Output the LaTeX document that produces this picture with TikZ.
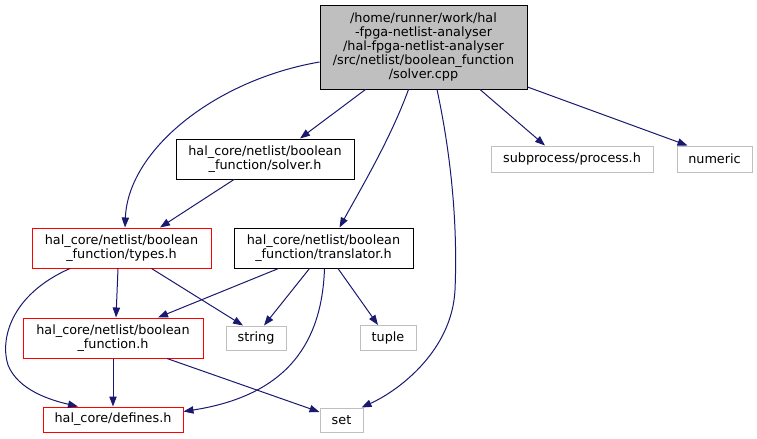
\documentclass[tikz,border=0pt]{standalone}
\usepackage{fontspec}
\setmainfont{DejaVu Sans}
\usetikzlibrary{calc,arrows.meta}
\definecolor{edgeblue}{HTML}{191970}
\definecolor{extgray}{HTML}{BFBFBF}
\definecolor{rootfill}{HTML}{BFBFBF}
\definecolor{incred}{HTML}{FF0000}
\tikzset{
  box/.style={draw, line width=0.75pt, inner sep=0pt, align=center, font=\fontsize{9.6}{10.5}\selectfont},
  rootbox/.style={box, draw=black, fill=rootfill},
  blackbox/.style={box, draw=black},
  redbox/.style={box, draw=incred},
  extbox/.style={box, draw=extgray},
  dep/.style={draw=edgeblue, line width=0.75pt, -{Triangle[length=7.5pt,width=5.5pt,fill=edgeblue]}},
}
\begin{document}
\begin{tikzpicture}[x=0.75pt,y=-0.75pt]
\useasboundingbox (0,0) rectangle (757,439);
\node[rootbox, minimum width=207*0.75pt, minimum height=84*0.75pt] (root) at (423.5,47)
  {/home/runner/work/hal\\-fpga-netlist-analyser\\/hal-fpga-netlist-analyser\\/src/netlist/boolean\_function\\/solver.cpp};
\node[blackbox, minimum width=178*0.75pt, minimum height=40*0.75pt] (solver) at (265,159)
  {hal\_core/netlist/boolean\\\_function/solver.h};
\node[redbox, minimum width=179*0.75pt, minimum height=40*0.75pt] (types) at (121.5,248)
  {hal\_core/netlist/boolean\\\_function/types.h};
\node[blackbox, minimum width=179*0.75pt, minimum height=40*0.75pt] (trans) at (323.5,248)
  {hal\_core/netlist/boolean\\\_function/translator.h};
\node[redbox, minimum width=180*0.75pt, minimum height=40*0.75pt] (bf) at (113,338)
  {hal\_core/netlist/boolean\\\_function.h};
\node[redbox, minimum width=140*0.75pt, minimum height=25*0.75pt] (defines) at (113,419.5)
  {hal\_core/defines.h};
\node[extbox, minimum width=60*0.75pt, minimum height=24*0.75pt] (string) at (256,338) {string};
\node[extbox, minimum width=56*0.75pt, minimum height=25*0.75pt] (tuple) at (388,338) {tuple};
\node[extbox, minimum width=43*0.75pt, minimum height=24*0.75pt] (set) at (341.5,420) {set};
\node[extbox, minimum width=162*0.75pt, minimum height=26*0.75pt] (subproc) at (572,159) {subprocess/process.h};
\node[extbox, minimum width=75*0.75pt, minimum height=26*0.75pt] (numeric) at (714.5,159) {numeric};

% edges
\draw[dep] ($(root.west)+(0,15)$) .. controls (215,80) and (128,150) .. ($(types.north)+(3.5,0)$);
\draw[dep] ($(root.south)+(-58,0)$) -- ($(solver.north)+(35,0)$);
\draw[dep] ($(root.south)+(-15,0)$) .. controls (390,140) and (360,190) .. ($(trans.north)+(16,0)$);
\draw[dep] ($(root.south)+(13.5,0)$) .. controls (450,150) and (458,220) .. (455,290)
   .. controls (452,350) and (400,390) .. ($(set.north east)+(-2,0)$);
\draw[dep] ($(root.south)+(56.5,0)$) -- ($(subproc.north)+(-27,0)$);
\draw[dep] ($(root.east)+(0,40)$) -- ($(numeric.north)+(-27,0)$);
\draw[dep] ($(solver.south)+(-31,0)$) -- ($(types.north)+(38.5,0)$);
\draw[dep] ($(types.south)+(-51.5,0)$) .. controls (10,295) and (0,340) .. (8,365)
   .. controls (18,390) and (50,400) .. ($(defines.north)+(-35,0)$);
\draw[dep] ($(types.south)+(-3.5,0)$) -- ($(bf.north)+(3,0)$);
\draw[dep] ($(types.south)+(30,0)$) -- ($(string.north)+(-13,0)$);
\draw[dep] ($(trans.south)+(-45,0)$) -- ($(bf.north)+(45,0)$);
\draw[dep] ($(trans.south)+(-14,0)$) -- ($(string.north)+(8,0)$);
\draw[dep] ($(trans.south)+(1,0)$) .. controls (322,340) and (290,395) .. ($(defines.east)+(0,-8)$);
\draw[dep] ($(trans.south)+(14.5,0)$) -- ($(tuple.north)+(-10,0)$);
\draw[dep] (bf.south) -- (defines.north);
\draw[dep] ($(bf.south)+(54,0)$) -- ($(set.west)+(0,-8)$);
\end{tikzpicture}
\end{document}
